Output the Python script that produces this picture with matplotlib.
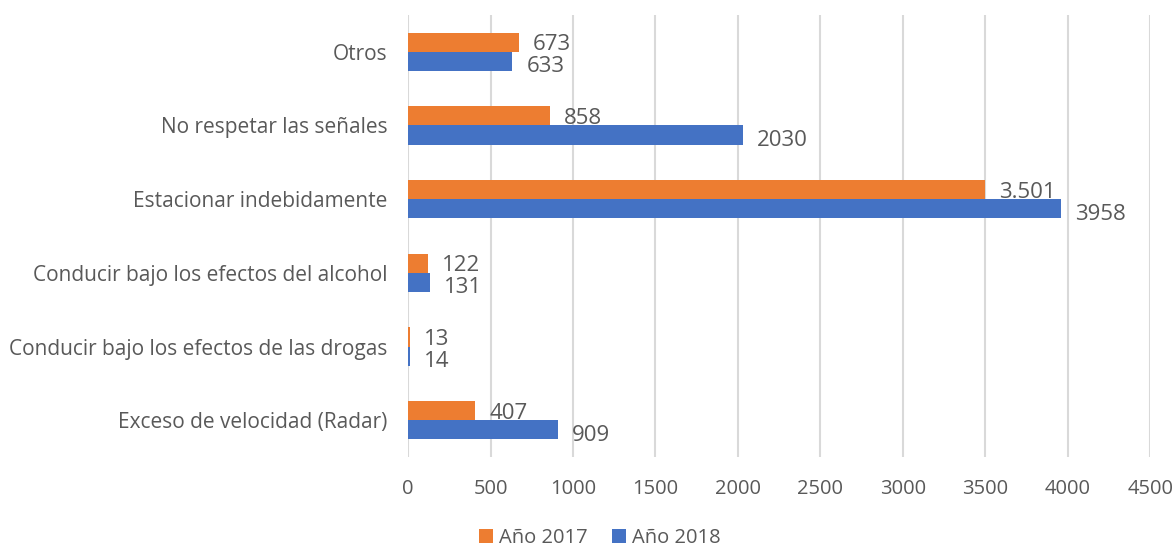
import matplotlib
matplotlib.use("Agg")
import matplotlib.pyplot as plt
import numpy as np

categories = ["Exceso de velocidad (Radar)",
              "Conducir bajo los efectos de las drogas",
              "Conducir bajo los efectos del alcohol",
              "Estacionar indebidamente",
              "No respetar las señales",
              "Otros"]
values_2017 = [407, 13, 122, 3501, 858, 673]
values_2018 = [909, 14, 131, 3958, 2030, 633]
labels_2017 = ["407", "13", "122", "3.501", "858", "673"]
labels_2018 = ["909", "14", "131", "3958", "2030", "633"]
xticks = [0, 500, 1000, 1500, 2000, 2500, 3000, 3500, 4000, 4500]

plt.rcParams['font.family'] = ['Open Sans', 'DejaVu Sans']
text_color = "#595959"
c2017 = "#ED7D31"
c2018 = "#4472C4"

fig = plt.figure(figsize=(11.76, 5.5), dpi=100)
ax = fig.add_axes([0.347, 0.169, 0.631, 0.804])

y = np.arange(len(categories))
h = 0.26
ax.barh(y + h/2, values_2017, height=h, color=c2017, label="Año 2017", zorder=3)
ax.barh(y - h/2, values_2018, height=h, color=c2018, label="Año 2018", zorder=3)

for yi, v, lab in zip(y, values_2017, labels_2017):
    ax.annotate(lab, (v, yi + h/2), xytext=(10, -2), textcoords="offset points",
                va="center", ha="left", fontsize=16, color=text_color)
for yi, v, lab in zip(y, values_2018, labels_2018):
    ax.annotate(lab, (v, yi - h/2), xytext=(10, -4), textcoords="offset points",
                va="center", ha="left", fontsize=16, color=text_color)

ax.set_xlim(0, 4500)
ax.set_ylim(-0.5, 5.5)
ax.set_xticks(xticks)
ax.set_yticks(y)
ax.set_yticklabels(categories)
ax.tick_params(axis="x", length=0, pad=16, labelsize=14.5, labelcolor=text_color)
ax.tick_params(axis="y", length=0, pad=15, labelsize=15, labelcolor=text_color)
ax.grid(axis="x", color="#D9D9D9", linewidth=1.5, zorder=0)
for s in ax.spines.values():
    s.set_visible(False)

fig.legend(loc="lower center", bbox_to_anchor=(0.51, -0.03), ncol=2, frameon=False,
           fontsize=14.5, labelcolor=text_color, handlelength=0.7, handleheight=0.7,
           handletextpad=0.3, columnspacing=1.2)

fig.savefig("out.png", dpi=100)
